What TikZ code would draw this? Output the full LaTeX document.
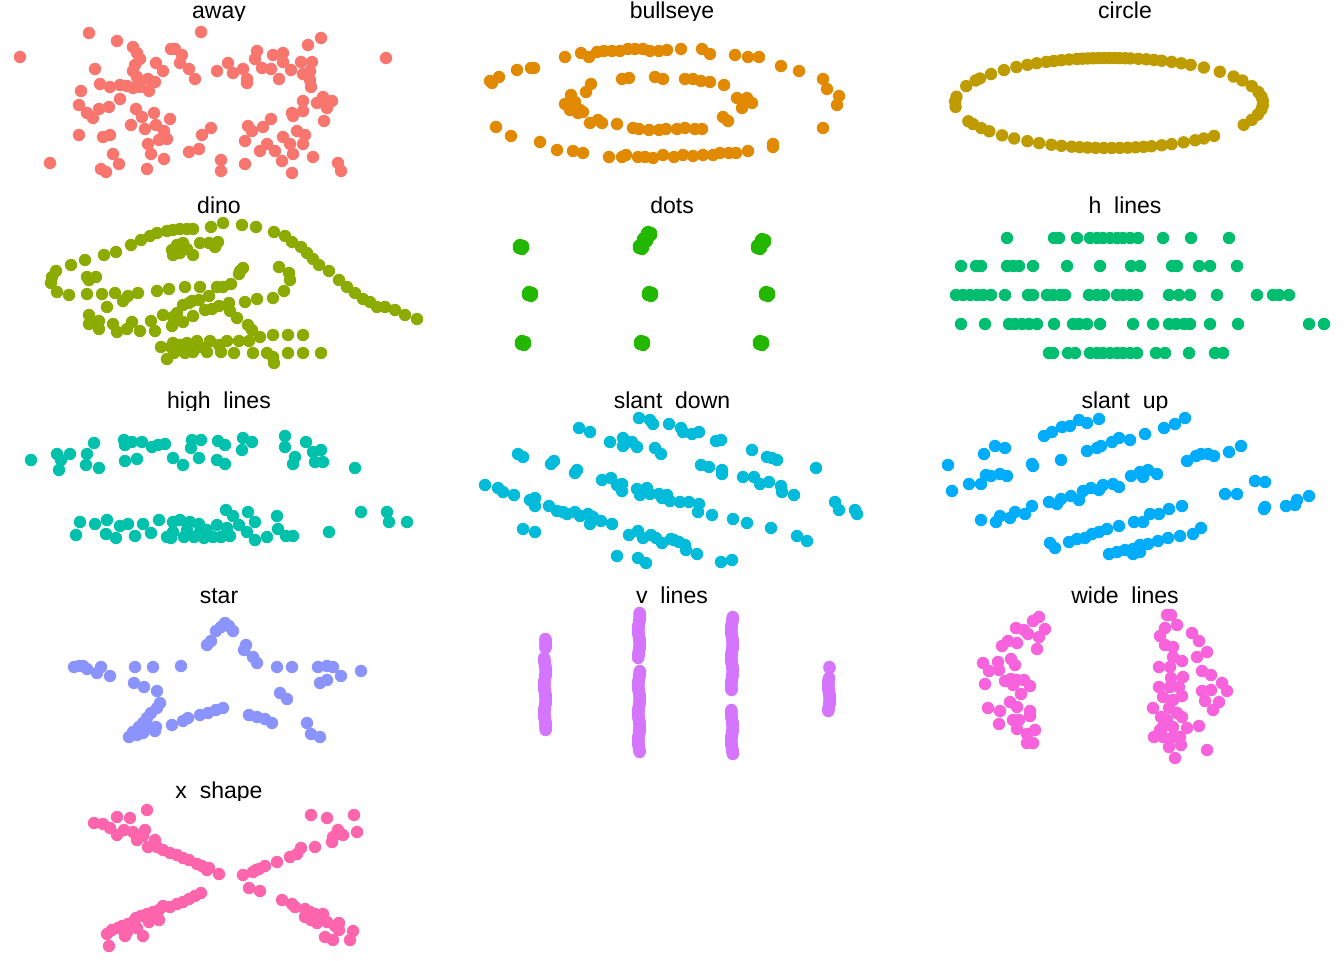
\documentclass[tikz,border=0pt]{standalone}
\usepackage{fontspec}
\setmainfont{Liberation Sans}

\definecolor{awaycol}{HTML}{F8766D}
\definecolor{bullcol}{HTML}{E18A00}
\definecolor{circcol}{HTML}{BE9C00}
\definecolor{dinocol}{HTML}{8CAB00}
\definecolor{dotscol}{HTML}{24B700}
\definecolor{hlincol}{HTML}{00BE70}
\definecolor{highcol}{HTML}{00C1AB}
\definecolor{sdowncol}{HTML}{00BBDA}
\definecolor{supcol}{HTML}{00ACFC}
\definecolor{starcol}{HTML}{8B93FF}
\definecolor{vlincol}{HTML}{D575FE}
\definecolor{widecol}{HTML}{F962DD}
\definecolor{xshcol}{HTML}{FF65AC}

\tikzset{
  title/.style={anchor=base, inner sep=0pt, text=black, font=\fontsize{13.1}{15}\selectfont},
}

\begin{document}
\begin{tikzpicture}[x=0.02cm, y=-0.02cm]
\fill[white] (0,0) rectangle (1344,960);
\useasboundingbox (0,0) rectangle (1344,960);

\foreach \tx/\ty/\nm/\lab in {219/0/away/away, 672/0/bull/bullseye, 1125/0/circ/circle,
  219/195/dino/dino, 672/195/dots/dots, 1125/195/hlin/h\_lines,
  219/390/high/high\_lines, 672/390/sdown/slant\_down, 1125/390/sup/slant\_up,
  219/585/star/star, 672/585/vlin/v\_lines, 1125/585/wide/wide\_lines,
  219/780/xsh/x\_shape}{
  \begin{scope}
    \clip (\tx-220,\ty-5) rectangle (\tx+220,\ty+20.9);
    \node[title] (t-\nm) at (\tx,\ty+18.5) {\lab};
  \end{scope}
}

% away
\foreach \x/\y in {20/57,89/33,117/41,201/32,321/38,308/45,386/58,133/47,137/53,140/59,135/65,133/71,137/77,95/69,100/84,110/87,120/85,127/86,133/88,140/87,148/79,155/82,149/91,156/63,163/71,171/49,175/49,182/55,180/63,189/69,195/79,81/91,79/105,87/113,93/118,99/109,109/107,120/99,136/109,142/117,154/113,131/125,145/129,156/125,164/131,170/119,79/135,103/137,110/135,148/144,159/140,167/139,151/154,113/154,119/164,101/169,106/172,147/169,164/159,50/163,189/152,199/149,202/135,211/128,221/160,221/171,245/164,217/71,228/63,233/73,243/69,247/79,247/83,257/51,255/59,262/68,271/69,273/55,283/53,283/62,279/79,291/70,301/62,312/62,303/74,310/71,311/87,310/80,303/101,292/113,293/116,303/111,323/97,317/103,332/101,327/108,324/121,271/119,263/127,248/126,252/131,245/141,260/151,267/144,275/151,283/137,290/144,293/154,282/161,297/131,305/135,303/144,313/157,292/173,338/163,341/171}
  \fill[awaycol] (\x,\y) circle (6.2);

% bullseye
\foreach \x/\y in {565/57,581/53,589/57,597/52,604/51,612/51,620/51,628/49,635/49,643/49,650/51,659/51,667/50,681/49,702/49,710/54,735/55,748/57,759/57,781/66,799/71,823/79,827/89,839/96,837/105,823/128,773/144,773/147,748/151,736/153,729/153,720/153,713/155,703/155,693/156,683/155,674/157,663/155,653/158,645/157,638/157,626/155,622/157,609/157,583/153,573/151,557/150,540/142,511/136,496/127,490/81,492/83,499/77,517/70,531/68,534/68,
  591/84,586/92,571/95,565/104,570/110,578/113,583/112,575/102,570/107,580/110,590/123,598/120,602/123,617/124,633/128,639/129,649/130,659/130,666/129,677/129,685/128,695/129,702/129,723/117,728/121,742/108,737/98,747/98,752/103,724/85,710/82,701/81,693/79,685/79,663/79,655/77,629/78,622/79}
  \fill[bullcol] (\x,\y) circle (6.2);

% circle
\foreach \a in {3,8,14,22,30,36,44,52,58,62,66,70,73,76,79,82,84,86,88,90,92,94,96,98,100,102,105,108,111,114,118,122,127,133,140,147,150,158,172,178,185,204,208,214,219,226,232,238,243,248,252,256,259,262,265,268,271,274,277,280,283,286,290,294,299,304,308,313,331,338,345,352,357}
  \fill[circcol] ({1109+154*cos(\a)},{103-45*sin(\a)}) circle (6.2);

% dino
\foreach \x/\y in {56/271,52/277,51/283,57/292,69/295,71/265,85/260,104/255,116/252,131/245,141/240,150/236,157/233,167/231,173/230,180/229,187/229,193/229,211/227,223/223,242/225,256/227,274/232,285/236,292/242,301/247,307/253,313/259,319/265,329/271,339/280,347/287,355/293,363/299,370/302,377/307,385/307,395/310,405/315,417/319,
  172/250,177/245,183/243,187/249,193/255,200/243,209/243,215/247,218/242,173/255,180/253,
  87/277,96/277,89/280,87/294,102/294,115/293,123/301,128/296,138/293,157/291,169/289,185/287,200/287,209/296,217/287,223/287,231/284,239/274,243/268,240/271,107/307,89/315,89/324,99/329,99/321,113/324,117/332,127/329,132/322,140/331,151/321,155/331,163/315,172/326,177/313,183/322,183/305,189/303,192/301,199/300,193/316,173/317,205/310,212/309,219/306,229/303,230/311,237/318,245/302,257/299,273/298,279/267,289/273,290/280,284/291,248/325,252/330,260/337,273/335,288/335,303/335,161/347,167/359,173/343,180/345,187/343,197/341,210/341,219/345,227/341,239/341,249/341,174/353,185/353,193/352,207/352,221/352,234/353,253/353,267/353,273/357,274/363,288/353,303/353,321/353,171/347,200/347}
  \fill[dinocol] (\x,\y) circle (6.2);

% dots
\foreach \cx/\cy in {521/247,530/294,523/343,641/247,645/240,649/234,650/294,642/343,759/247,763/241,767/294,761/343}
  \foreach \dx/\dy in {0/0,2/-1,-2/1,1/2,-1/-2,2/1,-2/-1}
    \fill[dotscol] (\cx+\dx,\cy+\dy) circle (6.2);

% h lines
\foreach \y/\xs in {238/{1007,1054,1059,1077,1090,1097,1103,1110,1117,1123,1130,1138,1163,1191,1229},
  266/{961,976,981,1007,1013,1019,1033,1067,1100,1131,1140,1172,1177,1199,1210,1237},
  295/{956,963,970,977,983,991,1005,1028,1033,1047,1053,1060,1065,1089,1097,1104,1117,1123,1130,1137,1169,1179,1190,1217,1257,1273,1279,1289},
  324/{961,985,1009,1015,1022,1029,1037,1054,1073,1079,1087,1100,1133,1153,1169,1176,1184,1190,1210,1238,1309,1324},
  353/{1049,1053,1068,1075,1090,1097,1103,1110,1117,1123,1130,1137,1156,1165,1189,1215,1223}}
  \foreach \x in \xs
    \fill[hlincol] (\x,\y) circle (6.2);

% high lines
\foreach \x/\y in {31/460,57/454,70/454,59/470,61/460,87/454,86/465,94/443,99/468,124/440,125/445,132/442,142/442,152/447,158/445,165/444,125/461,137/459,173/458,183/465,192/440,201/440,191/448,199/458,218/441,225/445,217/460,225/464,243/438,252/442,242/450,285/436,285/447,293/464,295/457,306/442,313/452,321/450,315/462,323/462,355/468,
  80/522,76/535,95/524,107/520,106/534,116/538,120/526,128/524,135/536,143/524,151/533,159/520,167/537,171/538,173/522,180/520,184/537,190/522,194/537,199/524,204/538,213/537,217/525,221/537,226/510,233/516,230/536,239/525,248/512,255/522,247/532,255/540,267/537,277/516,278/529,286/536,293/536,329/532,361/512,387/512,389/522,407/522,187/530,207/530,227/528,173/532,200/532}
  \fill[highcol] (\x,\y) circle (6.2);

% slant down
\foreach \x/\y in {639/418,650/420,653/424,669/424,681/428,683/432,692/434,699/432,579/428,590/432,610/442,623/438,623/446,632/442,637/447,655/448,661/454,716/441,721/440,752/450,767/457,777/460,772/458,816/468,518/454,523/457,551/464,554/461,575/473,577/470,602/480,611/478,617/485,622/484,622/491,637/489,647/488,640/495,650/494,659/494,667/495,670/501,680/502,689/502,699/504,698/512,712/515,733/519,747/523,701/465,709/467,722/470,722/474,743/477,754/477,760/484,769/482,781/486,782/492,794/495,835/502,839/510,855/510,857/514,485/485,498/488,503/492,514/495,530/500,535/498,535/506,549/506,557/511,567/514,575/512,580/516,588/514,590/524,601/521,612/524,593/517,563/512,523/529,535/532,629/535,638/531,643/538,651/535,656/538,662/543,671/539,679/542,674/540,685/545,686/550,697/554,617/556,638/558,646/563,721/562,732/560,771/528,797/536,807/541,643/492,662/498}
  \fill[sdowncol] (\x,\y) circle (6.2);

% slant up
\foreach \x/\y in {948/465,952/491,969/484,981/484,984/454,995/446,1005/448,986/475,991/476,1000/474,1007/476,1032/464,1033/466,1061/460,1044/436,1052/432,1062/427,1070/426,1079/420,1087/423,1099/419,1087/451,1097/448,1101/446,1112/442,1119/438,1130/440,1145/434,1164/428,1175/424,1185/418,981/520,996/522,1000/516,1010/518,1015/512,1025/514,1032/506,1049/502,1057/504,1061/499,1071/496,1079/500,1083/491,1091/488,1099/490,1103/485,1113/484,1119/487,1131/476,1140/472,1148/470,1143/477,1157/474,1187/461,1196/456,1201/454,1208/454,1214/456,1229/452,1241/446,1255/481,1265/482,1225/494,1237/494,1265/507,1264/509,1286/506,1297/500,1309/496,1295/505,1050/543,1055/548,1069/542,1077/539,1085/538,1092/534,1099/532,1107/529,1119/526,1134/522,1143/522,1150/514,1159/514,1169/509,1182/506,1109/554,1117/552,1125/550,1133/554,1133/549,1140/545,1148/544,1158/541,1168/538,1180/536,1193/534,1201/528,1140/552}
  \fill[supcol] (\x,\y) circle (6.2);

% star
\foreach \x/\y in {74/667,79/666,83/666,87/669,97/673,101/667,110/676,135/667,153/667,181/666,134/683,144/687,157/691,160/703,157/708,151/713,147/718,143/723,139/727,133/732,129/737,137/735,143/733,155/731,156/727,149/728,172/725,183/721,188/718,200/715,208/713,216/710,223/708,207/645,211/641,216/631,221/627,225/623,229/626,233/631,246/645,244/650,253/657,257/663,277/667,292/667,318/667,327/666,333/667,341/676,327/680,320/683,361/671,280/693,287/699,249/715,257/717,265/719,272/723,307/723,311/734,320/737}
  \fill[starcol] (\x,\y) circle (6.2);

% v lines
\foreach \vx/\ya/\yb in {545/639/648,545/658/730,639/613/658,639/671/752,732/617/690,732/710/754,829/667/668,829/678/711}
  \foreach \y in {\ya,...,\yb}
    \fill[vlincol] ({\vx+0.8*sin(13*\y)},\y) circle (6.2);

% wide lines
\foreach \x/\y in {983/663,989/671,998/662,999/670,985/684,1002/646,1008/641,1017/643,1016/628,1024/630,1028/634,1033/621,1039/617,1045/629,1039/637,1037/649,1011/659,1015/665,1005/681,1011/679,1017/680,1024/680,1030/686,1013/685,1021/694,1010/702,1017/707,988/708,1000/711,1030/711,1030/716,999/724,1013/720,1017/729,1027/734,1035/730,1027/743,1033/743,1019/720,
  1167/615,1171/615,1177/625,1165/628,1160/636,1165/645,1173/647,1192/633,1199/641,1197/657,1207/652,1173/657,1182/661,1159/667,1170/667,1171/678,1183/677,1202/671,1211/675,1222/683,1227/691,1202/691,1211/690,1205/701,1219/702,1213/710,1159/687,1170/687,1179/687,1182/696,1163/697,1153/708,1169/708,1161/717,1182/717,1163/727,1173/727,1187/728,1199/726,1154/737,1163/737,1173/737,1180/737,1169/747,1181/745,1175/758,1207/750,1160/730,1167/720,1173/700,1177/713}
  \fill[widecol] (\x,\y) circle (6.2);

% x shape
\foreach \x/\y in {94/823,103/824,110/828,117/817,130/818,147/810,117/835,124/830,133/832,137/840,145/830,143/836,155/840,148/847,157/847,163/850,170/853,177/855,183/858,189/860,197/864,202/866,209/868,207/870,219/874,
  201/893,195/896,189/899,183/902,177/904,170/907,163/906,159/910,153/912,147/914,141/916,136/918,133/922,128/924,122/926,118/928,112/930,107/934,109/946,125/936,143/936,137/928,159/920,149/922,127/932,
  311/815,327/818,354/815,357/832,338/830,343/835,332/842,333/837,315/847,301/848,297/854,290/857,277/862,265/866,259/869,253/872,243/875,256/870,
  249/888,260/891,282/900,292/904,295/907,305/909,310/912,315/914,323/914,311/920,317/923,327/922,335/926,339/923,339/930,353/931,350/940,325/937,333/940,305/917}
  \fill[xshcol] (\x,\y) circle (6.2);

\end{tikzpicture}
\end{document}
